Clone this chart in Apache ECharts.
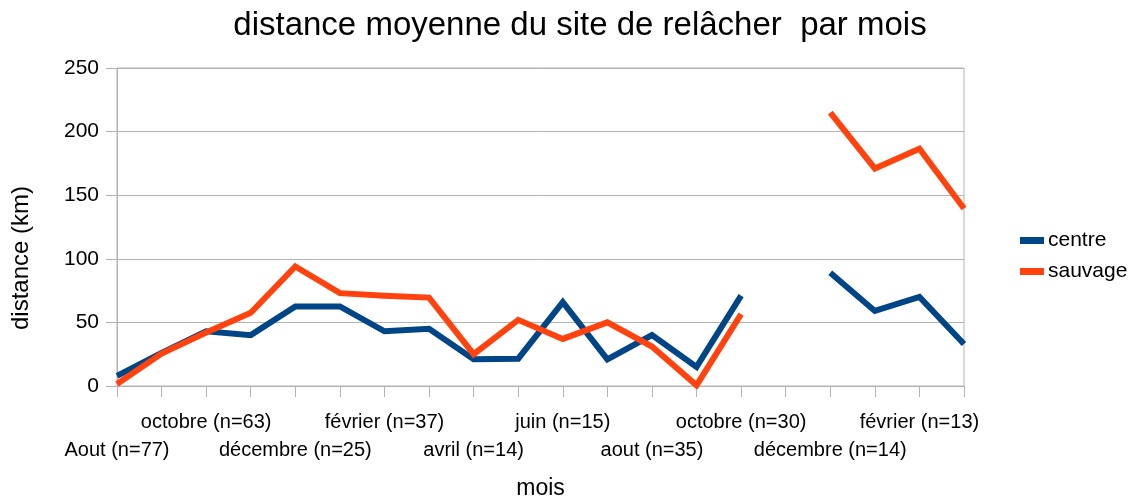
<!DOCTYPE html>
<html>
<head>
<meta charset="utf-8">
<script src="https://cdn.jsdelivr.net/npm/echarts@6/dist/echarts.min.js"></script>
<style>
  html, body { margin: 0; padding: 0; background: #fff; }
  #chart { width: 1138px; height: 499px; }
</style>
</head>
<body>
<div id="chart"></div>
<script>
// mois (seul un sur deux est affiché sur l'axe)
const mois = [
  'Aout (n=77)', 'septembre', 'octobre (n=63)', 'novembre',
  'décembre (n=25)', 'janvier', 'février (n=37)', 'mars',
  'avril (n=14)', 'mai', 'juin (n=15)', 'juillet',
  'aout (n=35)', 'septembre', 'octobre (n=30)', 'novembre',
  'décembre (n=14)', 'janvier', 'février (n=13)', 'mars'
]

// distance moyenne (km)
const centre = [8, 26, 43, 40, 62.5, 62.5, 43, 45, 21, 21.5, 66, 21, 40, 15, 71, null, 89, 59, 70, 33]
const sauvage = [1.5, 25.5, 42, 57.5, 94, 73, 71, 69.5, 25, 52, 37, 50, 31, 0.5, 56.5, null, 215, 171, 186.5, 139.5]

const yTicks = { min: 0, max: 250, interval: 50 }

const gray = '#b3b3b3'
const font = 'Liberation Sans, Arial, sans-serif'

const chart = echarts.init(document.getElementById('chart'))

chart.setOption({
  animation: false,
  textStyle: { fontFamily: font, color: '#000' },
  title: {
    text: 'distance moyenne du site de relâcher  par mois',
    left: 575,
    textAlign: 'center',
    top: 4,
    textStyle: { fontSize: 33, fontWeight: 'normal', color: '#000', fontFamily: font }
  },
  legend: {
    orient: 'vertical',
    left: 1020,
    top: 230,
    padding: 0,
    itemWidth: 24,
    itemHeight: 7,
    itemGap: 10,
    textStyle: { fontSize: 21, color: '#000', padding: [0, 0, 0, -1] },
    data: [
      { name: 'centre', icon: 'rect' },
      { name: 'sauvage', icon: 'rect' }
    ]
  },
  grid: {
    left: 117,
    right: 174,
    top: 68,
    bottom: 113,
    outerBoundsMode: 'none',
    show: true,
    borderColor: gray,
    borderWidth: 1
  },
  xAxis: {
    type: 'category',
    data: mois,
    boundaryGap: false,
    name: 'mois',
    nameLocation: 'middle',
    nameGap: 91,
    nameTextStyle: { fontSize: 23, color: '#000' },
    axisLine: { lineStyle: { color: gray } },
    axisTick: { show: true, interval: 0, length: 11, lineStyle: { color: gray } },
    axisLabel: {
      interval: 0,
      showMinLabel: true,
      showMaxLabel: true,
      hideOverlap: false,
      fontSize: 20,
      color: '#000',
      margin: 22,
      lineHeight: 28,
      formatter: (v, i) => (i % 2 === 1 ? '' : i % 4 === 0 ? '\n' + v : v)
    },
    splitLine: { show: false }
  },
  yAxis: {
    type: 'value',
    min: yTicks.min,
    max: yTicks.max,
    interval: yTicks.interval,
    name: 'distance (km)',
    nameLocation: 'middle',
    nameGap: 84,
    nameTextStyle: { fontSize: 24, color: '#000', padding: [0, 62, 0, 0] },
    axisLine: { show: true, lineStyle: { color: gray } },
    axisTick: { show: true, length: 11, lineStyle: { color: gray } },
    axisLabel: { fontSize: 21, color: '#000', margin: 18 },
    splitLine: { lineStyle: { color: gray, width: 1 } }
  },
  series: [
    {
      name: 'centre',
      type: 'line',
      data: centre,
      showSymbol: false,
      connectNulls: false,
      color: '#004586',
      lineStyle: { width: 6, join: 'miter' }
    },
    {
      name: 'sauvage',
      type: 'line',
      data: sauvage,
      showSymbol: false,
      connectNulls: false,
      color: '#ff420e',
      lineStyle: { width: 6, join: 'miter' }
    }
  ]
})
</script>
</body>
</html>
